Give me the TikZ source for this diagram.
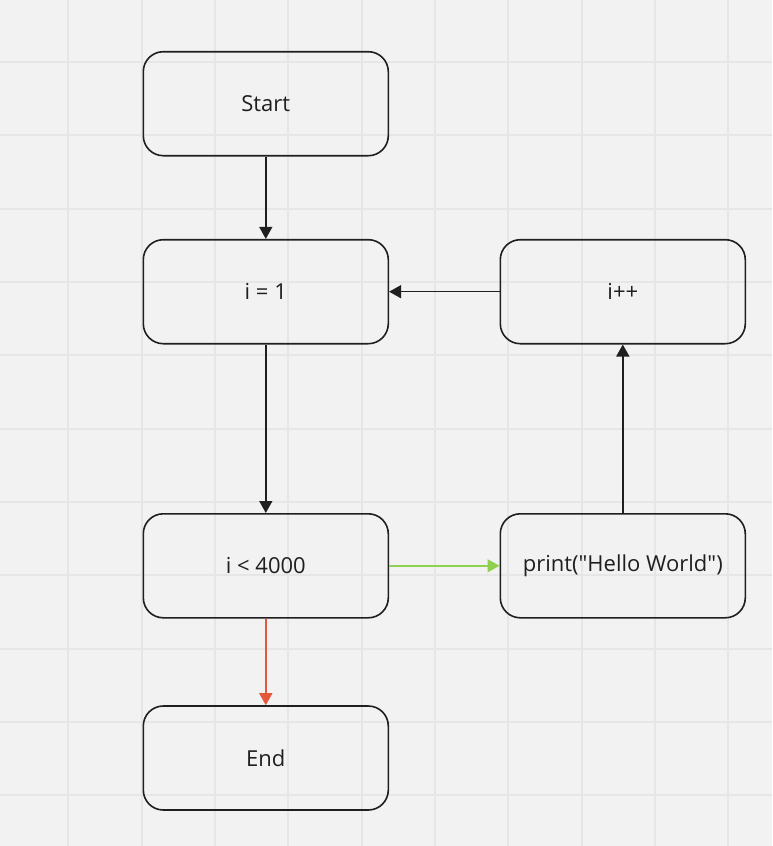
\documentclass[tikz,border=0pt]{standalone}
\usepackage{fontspec}
\setmainfont{Open Sans}[Ligatures=TeXOff]
\usetikzlibrary{arrows.meta}
\definecolor{bg}{HTML}{F2F2F2}
\definecolor{gridc}{HTML}{E6E6E6}
\definecolor{ink}{HTML}{1F1F1F}
\definecolor{redc}{HTML}{E3573A}
\definecolor{greenc}{HTML}{8FD14F}
\tikzset{
  flowbox/.style={draw=ink, line width=1.6pt, rounded corners=20pt, minimum width=245pt, minimum height=104pt, inner sep=0pt, text=ink, font=\fontsize{22pt}{26pt}\selectfont},
  conn/.style={draw=ink, line width=1.5pt, -{Triangle[length=12pt,width=13pt]}},
}
\begin{document}
\begin{tikzpicture}[x=1pt,y=-1pt]
\useasboundingbox (0,0) rectangle (772,846);
\fill[bg] (0,0) rectangle (772,846);
\foreach \i in {0,...,9} {
  \draw[gridc, line width=1.8pt] ({68.3+73.33*\i},0) -- ({68.3+73.33*\i},846);
}
\foreach \j in {0,...,10} {
  \draw[gridc, line width=1.8pt] (0,{62+73.33*\j}) -- (772,{62+73.33*\j});
}
\node[flowbox] (start) at (265.8,103.7) {Start};
\node[flowbox] (init) at (265.8,291.7) {i = 1};
\node[flowbox] (cond) at (265.8,565.8) {i < 4000};
\node[flowbox] (end) at (265.8,758) {End};
\node[flowbox] (print) at (622.8,565.8) {print("Hello World")};
\node[flowbox] (inc) at (622.8,291.7) {i++};
\draw[conn] (start) -- (init);
\draw[conn] (init) -- (cond);
\draw[conn, color=redc] (cond) -- (end);
\draw[conn, color=greenc] (cond) -- (print);
\draw[conn] (print) -- (inc);
\draw[conn] (inc) -- (init);
\end{tikzpicture}
\end{document}
